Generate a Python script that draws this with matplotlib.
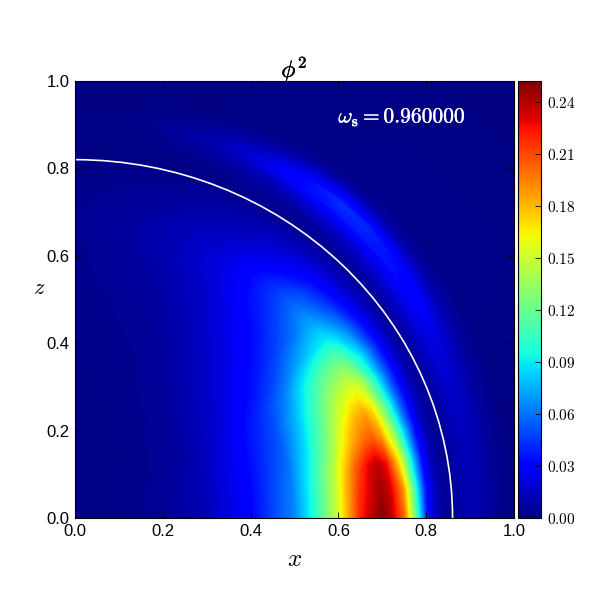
import numpy as np
import matplotlib
matplotlib.use('Agg')
import matplotlib.pyplot as plt
import matplotlib.patheffects as pe
from matplotlib.patches import Ellipse
from matplotlib.colors import Normalize
from matplotlib.cm import ScalarMappable

plt.rcParams['font.family'] = ['Liberation Sans', 'DejaVu Sans']
plt.rcParams['mathtext.fontset'] = 'cm'

# grid of the scan, polar: radius in the x-z plane, angle up from the x axis
radii = [0, .1, .2, .3, .4, .5, .55, .6, .62, .65, .68, .7, .72, .75, .78, .8, .82, .84, .86, .88, .9, .92, .94, .96, .98, 1.0, 1.45]
angles_deg = [0, 5, 10, 15, 20, 25, 30, 35, 40, 45, 50, 55, 60, 70, 80, 90]

phi2_00 = [.001, .002, .005, .012, .03, .064, .102, .152, .18, .22, .24, .25, .24, .2, .105, .04, .015, .006, .004, .009, .012, .01, .007, .004, .002, .001, 0]
phi2_05 = [.001, .002, .005, .012, .03, .064, .102, .15, .178, .215, .235, .245, .235, .19, .095, .038, .014, .006, .004, .009, .012, .011, .008, .005, .002, .001, 0]
phi2_10 = [.001, .002, .005, .012, .03, .062, .098, .145, .17, .205, .23, .238, .225, .165, .082, .035, .013, .006, .005, .01, .013, .012, .009, .005, .003, .001, 0]
phi2_15 = [.001, .002, .005, .012, .029, .058, .09, .13, .152, .18, .2, .205, .19, .135, .07, .033, .013, .006, .006, .011, .015, .014, .01, .006, .003, .001, 0]
phi2_20 = [.001, .002, .005, .011, .028, .054, .082, .118, .135, .16, .18, .185, .17, .115, .06, .032, .014, .006, .007, .012, .017, .016, .012, .007, .004, .002, 0]
phi2_25 = [.001, .002, .004, .01, .026, .05, .074, .106, .12, .14, .152, .155, .145, .1, .055, .032, .015, .007, .008, .014, .02, .02, .015, .009, .005, .002, 0]
phi2_30 = [.001, .002, .004, .009, .022, .045, .062, .09, .1, .115, .124, .125, .112, .085, .05, .03, .015, .007, .008, .015, .023, .027, .02, .012, .006, .003, 0]
phi2_35 = [.001, .002, .004, .008, .019, .036, .048, .065, .072, .082, .09, .092, .085, .065, .04, .025, .013, .007, .008, .015, .024, .032, .028, .015, .007, .003, 0]
phi2_40 = [.001, .002, .003, .007, .016, .03, .038, .048, .053, .06, .068, .07, .062, .048, .03, .02, .012, .006, .008, .015, .025, .036, .034, .019, .008, .003, 0]
phi2_45 = [.001, .002, .003, .006, .014, .024, .03, .038, .042, .048, .054, .055, .05, .038, .025, .017, .01, .005, .007, .014, .024, .038, .041, .024, .009, .003, 0]
phi2_50 = [.001, .002, .003, .005, .011, .019, .025, .03, .034, .038, .041, .041, .036, .027, .019, .014, .009, .005, .006, .013, .023, .037, .043, .027, .01, .003, 0]
phi2_55 = [.001, .001, .002, .004, .009, .015, .019, .023, .026, .029, .03, .029, .025, .02, .015, .011, .007, .004, .005, .011, .021, .034, .034, .02, .008, .002, 0]
phi2_60 = [.001, .001, .002, .004, .007, .011, .014, .017, .019, .021, .021, .02, .018, .014, .011, .008, .006, .004, .005, .009, .016, .026, .022, .012, .005, .002, 0]
phi2_70 = [.001, .001, .002, .003, .004, .006, .008, .01, .011, .012, .012, .012, .011, .009, .007, .005, .003, .002, .003, .005, .008, .011, .008, .004, .002, .001, 0]
phi2_80 = [.001, .001, .001, .002, .003, .004, .005, .006, .006, .007, .007, .007, .006, .005, .004, .003, .002, .001, .001, .002, .002, .003, .002, .001, .001, 0, 0]
phi2_90 = [.001, .001, .001, .001, .002, .002, .003, .003, .003, .004, .004, .004, .003, .003, .002, .001, .001, .001, .001, .001, .001, .001, .001, 0, 0, 0, 0]

# white curve, semi-axes along x and z
horizon_x = .86
horizon_z = .82

cbar_ticks = [0, .03, .06, .09, .12, .15, .18, .21, .24]
phi2_max = .252

phi2 = np.array([phi2_00, phi2_05, phi2_10, phi2_15, phi2_20, phi2_25, phi2_30, phi2_35,
                 phi2_40, phi2_45, phi2_50, phi2_55, phi2_60, phi2_70, phi2_80, phi2_90])
rr, tt = np.meshgrid(radii, np.radians(angles_deg))

fig = plt.figure(figsize=(6, 6), dpi=100)
ax = fig.add_axes([75/600, 1-518/600, 439/600, 437/600])
ax.set_facecolor('#00007f')
levels = np.linspace(0, phi2_max, 257)
ax.contourf(rr*np.cos(tt), rr*np.sin(tt), phi2, levels=levels, cmap='jet', vmin=0, vmax=phi2_max, extend='both')

ax.add_patch(Ellipse((0, 0), 2*horizon_x, 2*horizon_z, fill=False, edgecolor='white', lw=1.2))

ax.set_xlim(0, 1)
ax.set_ylim(0, 1)
ax.set_xticks(np.arange(0, 1.01, .2))
ax.set_yticks(np.arange(0, 1.01, .2))
ax.tick_params(direction='in', top=True, right=True, length=4, width=.6, labelsize=12, pad=4)
ax.set_xlabel('$x$', fontsize=18, labelpad=6)
ax.set_ylabel('$z$', fontsize=16, rotation=0, labelpad=5)
ax.set_title(r'$\phi^{\mathbf{2}}$', fontsize=17, pad=3,
             path_effects=[pe.withStroke(linewidth=.3, foreground='black')])
ax.text(.6, .905, r'$\omega_{\mathbf{s}}=\mathbf{0.960000}$', color='white', fontsize=15.5,
        transform=ax.transAxes, va='baseline',
        path_effects=[pe.withStroke(linewidth=.25, foreground='white')])

cax = fig.add_axes([518/600, 1-518/600, 23/600, 437/600])
cb = fig.colorbar(ScalarMappable(Normalize(0, phi2_max), 'jet'), cax=cax, ticks=cbar_ticks)
cb.ax.set_yticklabels(['$%.2f$' % t for t in cbar_ticks])
cb.ax.tick_params(direction='in', length=4, width=.6, labelsize=11, pad=4)

fig.savefig('out.png', dpi=100)
